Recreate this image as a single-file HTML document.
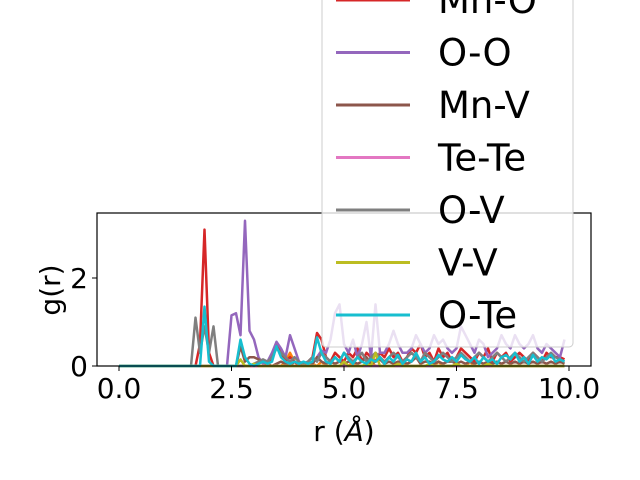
<!DOCTYPE html>
<html><head><meta charset="utf-8"><style>
body{margin:0;background:#fff}
svg{display:block;font-family:"DejaVu Sans","Liberation Sans",sans-serif}
</style></head><body>
<svg id="chart" width="640" height="480" viewBox="0 0 640 480">
<rect x="0" y="0" width="640" height="480" fill="#fff"/>
<g id="series"></g>
<rect x="97" y="213" width="494" height="153" fill="none" stroke="#000" stroke-width="1.2"/>
<g id="xticks"></g>
<g id="yticks"></g>
<text x="344" y="441" font-size="28" text-anchor="middle">r (<tspan font-style="italic">Å</tspan>)</text>
<text transform="translate(60,290) rotate(-90)" font-size="28" text-anchor="middle">g(r)</text>
<g id="legend"></g>
</svg>
<script>
const rStep = 0.1;
const seriesNames = ["Mn-Mn","Mn-Te","Te-V","Mn-O","O-O","Mn-V","Te-Te","O-V","V-V","O-Te"];
const seriesColors = ["#1f77b4","#ff7f0e","#2ca02c","#d62728","#9467bd","#8c564b","#e377c2","#7f7f7f","#bcbd22","#17becf"];
const mnMn = [0,0,0,0,0,0,0,0,0,0, 0,0,0,0,0,0,0,0,0,0, 0,0,0,0,0,0,0,0,0,0, 0,0,0,0,0,0,0,0,0,0, 0,0,0,0,0,0,0,0,0,0, 0,0,0,0,0,0,0,0,0,0, 0,0,0,0,0,0,0,0,0,0, 0,0,0,0,0,0,0,0,0,0, 0,0,0,0,0,0,0,0,0,0, 0,0,0,0,0,0,0,0,0,0];
const mnTe = [0,0,0,0,0,0,0,0,0,0, 0,0,0,0,0,0,0,0,0,0, 0,0,0,0,0,0,0,0,0,0, 0,0,0,0,0,0,0,0.1,0.3,0.1, 0,0,0,0.05,0,0.1,0,0,0,0, 0,0,0.1,0,0,0,0.1,0,0,0, 0,0,0,0.1,0,0,0,0,0,0, 0,0.1,0,0,0,0,0,0,0.1,0, 0,0,0,0,0,0,0,0,0,0, 0,0,0,0,0,0,0,0,0,0];
const teV = [0,0,0,0,0,0,0,0,0,0, 0,0,0,0,0,0,0,0,0,0, 0,0,0,0,0,0,0,0,0,0, 0.05,0,0,0,0,0,0,0,0,0, 0,0,0,0,0,0,0,0,0,0, 0,0,0,0,0,0,0,0,0,0, 0,0,0,0,0,0,0,0,0,0, 0,0,0,0,0,0,0,0,0,0, 0,0,0,0,0,0,0,0,0,0, 0,0,0,0,0,0,0,0,0,0];
const mnO = [0,0,0,0,0,0,0,0,0,0, 0,0,0,0,0,0,0,0,0.5,3.1, 0.3,0,0,0,0,0,0,0,0,0, 0,0,0,0.05,0.2,0.5,0.3,0.1,0.2,0.1, 0,0,0.1,0.2,0.75,0.6,0.2,0.1,0.3,0.2, 0.1,0.3,0.2,0.4,0.1,0.3,0.2,0.1,0.3,0.2, 0.4,0.2,0.3,0.1,0.2,0.4,0.3,0.5,0.2,0.3, 0.1,0.4,0.2,0.3,0.1,0.2,0.4,0.3,0.2,0.1, 0.3,0.2,0.4,0.1,0.3,0.2,0.3,0.1,0.2,0.3, 0.2,0.1,0.3,0.2,0.1,0.3,0.2,0.2,0.2,0.15];
const oO = [0,0,0,0,0,0,0,0,0,0, 0,0,0,0,0,0,0,0,0,0, 0,0,0,0,0,1.15,1.2,0.7,3.3,0.8, 0.6,0.2,0.05,0.1,0.3,0.55,0.4,0.2,0.7,0.4, 0.1,0.05,0.1,0.05,0.2,0.35,0.3,0.6,1.2,1.4, 0.5,0.3,0.6,0.2,0.5,1.0,0.2,1.4,0.3,0.3, 0.5,0.8,0.5,0.3,0.3,0.4,0.7,0.5,0.3,0.4, 0.7,0.5,0.6,0.4,0.3,0.4,0.9,0.7,0.5,0.3, 0.6,0.5,0.2,0.3,0.4,0.7,0.5,0.4,0.7,0.5, 0.4,0.5,0.7,0.4,0.3,0.5,0.4,0.3,0.2,0.6];
const mnV = [0,0,0,0,0,0,0,0,0,0, 0,0,0,0,0,0,0,0,0,0, 0,0,0,0,0,0,0,0.45,0.1,0.2, 0.2,0.15,0.1,0.05,0,0.05,0.1,0.05,0,0.1, 0.05,0,0.1,0.05,0.2,0.1,0.05,0.1,0.05,0.1, 0.05,0.1,0.1,0.05,0.1,0.2,0.05,0.1,0.15,0.05, 0.1,0.05,0.1,0.1,0.05,0.1,0.2,0.05,0.1,0.1, 0.05,0.1,0.05,0.1,0.1,0.05,0.1,0.05,0.1,0.05, 0.1,0.05,0.1,0.05,0.1,0.05,0.1,0.05,0.1,0.05, 0.1,0.05,0.1,0.05,0.1,0.05,0.1,0.05,0.1,0.05];
const teTe = [0,0,0,0,0,0,0,0,0,0, 0,0,0,0,0,0,0,0,0,0, 0,0,0,0,0,0,0,0,0,0, 0,0,0,0,0,0,0,0,0,0, 0,0,0,0,0,0,0,0,0,0, 0,0,0,0,0,0,0,0,0,0, 0,0,0,0,0,0,0,0,0,0, 0,0,0,0,0,0,0,0,0,0, 0,0,0,0,0,0,0,0,0,0, 0,0,0,0,0,0,0,0,0,0];
const oV = [0,0,0,0,0,0,0,0,0,0, 0,0,0,0,0,0,0,1.1,0.3,0.9, 0.3,0.9,0,0,0,0,0,0,0,0, 0.05,0.1,0.15,0.1,0.2,0.4,0.3,0.2,0.1,0.2, 0.1,0.05,0.1,0.2,0.1,0.3,0.2,0.1,0.2,0.1, 0.3,0.2,0.1,0.2,0.3,0.1,0.2,0.3,0.2,0.1, 0.2,0.3,0.2,0.1,0.2,0.3,0.2,0.1,0.3,0.2, 0.1,0.2,0.3,0.2,0.1,0.2,0.3,0.2,0.1,0.2, 0.3,0.2,0.1,0.2,0.3,0.2,0.1,0.2,0.3,0.2, 0.1,0.2,0.3,0.2,0.1,0.2,0.3,0.2,0.15,0.1];
const vV = [0,0,0,0,0,0,0,0,0,0, 0,0,0,0,0,0,0,0,0,0, 0,0,0,0,0,0,0,0.15,0,0, 0.05,0,0,0,0,0,0,0,0,0, 0,0,0,0,0,0,0,0,0,0, 0.1,0,0,0,0,0.05,0,0.3,0,0, 0,0,0.05,0,0,0,0,0,0,0.05, 0,0,0,0,0,0.05,0,0,0,0, 0,0,0.05,0,0,0,0,0,0,0, 0,0,0,0,0,0,0,0,0,0];
const oTe = [0,0,0,0,0,0,0,0,0,0, 0,0,0,0,0,0,0,0,0,1.35, 0.1,0,0,0,0,0,0,0.6,0.2,0.05, 0,0.05,0.1,0.05,0.1,0.45,0.2,0.1,0.05,0.1, 0.05,0.1,0.05,0.1,0.65,0.3,0.1,0.05,0.2,0.1, 0.3,0.15,0.05,0.2,0.1,0.05,0.15,0.1,0.2,0.05, 0.2,0.1,0.25,0.05,0.15,0.1,0.3,0.1,0.2,0.05, 0.1,0.25,0.15,0.1,0.2,0.1,0.25,0.15,0.1,0.2, 0.05,0.2,0.1,0.15,0.05,0.2,0.25,0.15,0.3,0.1, 0.2,0.05,0.25,0.1,0.2,0.15,0.25,0.1,0.15,0.1];
const seriesData = [mnMn,mnTe,teV,mnO,oO,mnV,teTe,oV,vV,oTe];
const xTickValues = [0,2.5,5,7.5,10];
const xTickLabels = ["0.0","2.5","5.0","7.5","10.0"];
const yTickValues = [0,2];
const yTickLabels = ["0","2"];

const NS="http://www.w3.org/2000/svg";
function xs(v){return 119+v*45;}
function ys(v){return 366-v*44;}
const sg=document.getElementById('series');
seriesData.forEach((arr,k)=>{
  const pts=arr.map((v,i)=>xs(i*rStep).toFixed(1)+','+ys(v).toFixed(1)).join(' ');
  const pl=document.createElementNS(NS,'polyline');
  pl.setAttribute('points',pts);
  pl.setAttribute('fill','none');
  pl.setAttribute('stroke',seriesColors[k]);
  pl.setAttribute('stroke-width','2.5');
  pl.setAttribute('stroke-linejoin','round');
  
  
  sg.appendChild(pl);
});
const xg=document.getElementById('xticks');
xTickValues.forEach((v,i)=>{
  const l=document.createElementNS(NS,'line');
  l.setAttribute('x1',xs(v));l.setAttribute('x2',xs(v));l.setAttribute('y1',366);l.setAttribute('y2',371);
  l.setAttribute('stroke','#000');
  
  
  xg.appendChild(l);
  const t=document.createElementNS(NS,'text');
  t.setAttribute('x',xs(v));t.setAttribute('y',398);t.setAttribute('font-size','28');t.setAttribute('text-anchor','middle');
  t.textContent=xTickLabels[i];
  
  
  xg.appendChild(t);
});
const yg=document.getElementById('yticks');
yTickValues.forEach((v,i)=>{
  const l=document.createElementNS(NS,'line');
  l.setAttribute('x1',92);l.setAttribute('x2',97);l.setAttribute('y1',ys(v));l.setAttribute('y2',ys(v));
  l.setAttribute('stroke','#000');
  
  
  yg.appendChild(l);
  const t=document.createElementNS(NS,'text');
  t.setAttribute('x',88);t.setAttribute('y',ys(v)+10);t.setAttribute('font-size','28');t.setAttribute('text-anchor','end');
  t.textContent=yTickLabels[i];
  
  
  yg.appendChild(t);
});
const lg=document.getElementById('legend');
const box=document.createElementNS(NS,'rect');
box.setAttribute('x',322);box.setAttribute('y',-200);box.setAttribute('width',251);box.setAttribute('height',547);
box.setAttribute('rx',4);box.setAttribute('fill','rgba(255,255,255,0.8)');box.setAttribute('stroke','#ccc');


lg.appendChild(box);
seriesNames.forEach((n,k)=>{
  const y=0+(k-3)*52.5;
  const l=document.createElementNS(NS,'line');
  l.setAttribute('x1',336);l.setAttribute('x2',410);l.setAttribute('y1',y);l.setAttribute('y2',y);
  l.setAttribute('stroke',seriesColors[k]);l.setAttribute('stroke-width','3');
  
  
  lg.appendChild(l);
  const t=document.createElementNS(NS,'text');
  t.setAttribute('x',438);t.setAttribute('y',y+13);t.setAttribute('font-size','37');
  t.textContent=n;
  
  
  lg.appendChild(t);
});
</script>
</body></html>
